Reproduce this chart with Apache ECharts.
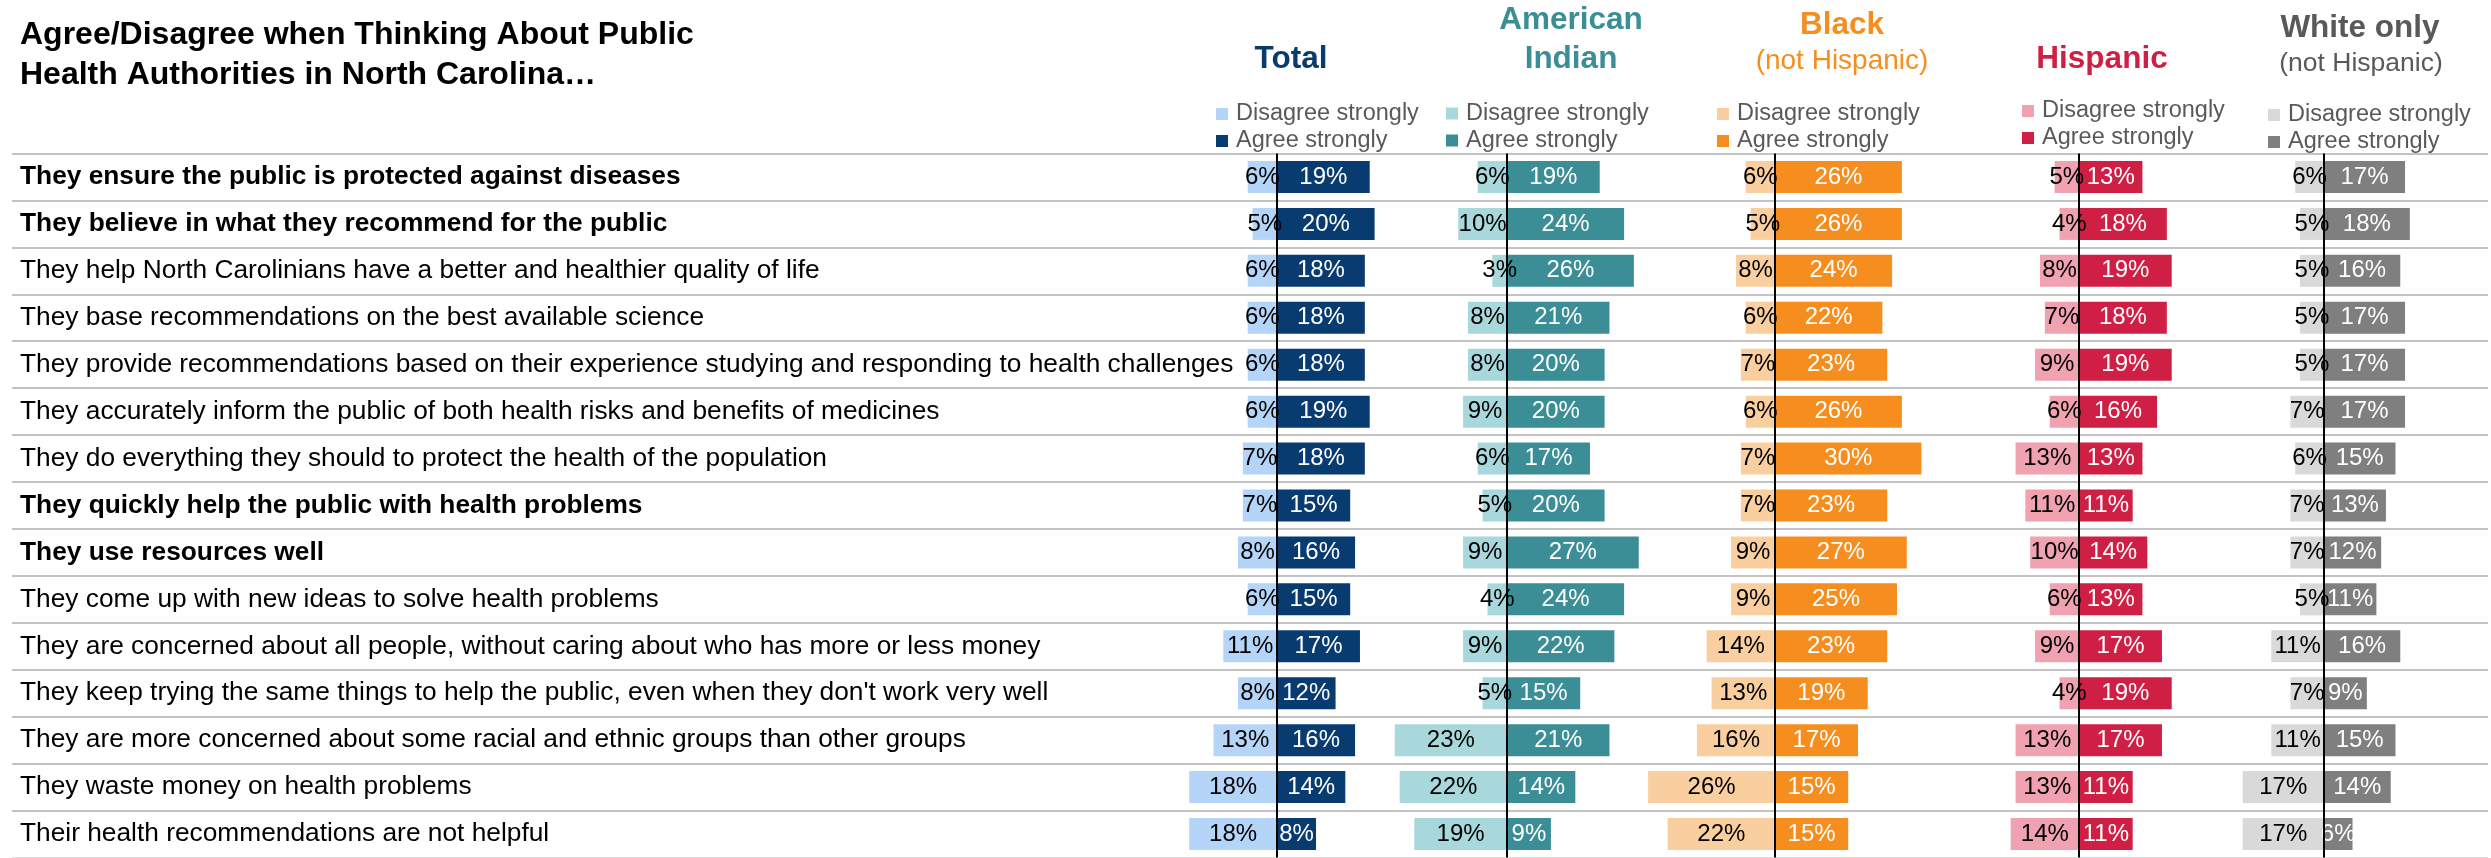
<!DOCTYPE html>
<html>
<head>
<meta charset="utf-8">
<script src="https://cdn.jsdelivr.net/npm/echarts@6/dist/echarts.min.js"></script>
<style>
html,body{margin:0;padding:0;background:#fff;}
#chart{width:2491px;height:858px;}
</style>
</head>
<body>
<div id="chart"></div>
<script>
// ---------- DATA ----------
const categories = [
  "They ensure the public is protected against diseases",
  "They believe in what they recommend for the public",
  "They help North Carolinians have a better and healthier quality of life",
  "They base recommendations on the best available science",
  "They provide recommendations based on their experience studying and responding to health challenges",
  "They accurately inform the public of both health risks and benefits of medicines",
  "They do everything they should to protect the health of the population",
  "They quickly help the public with health problems",
  "They use resources well",
  "They come up with new ideas to solve health problems",
  "They are concerned about all people, without caring about who has more or less money",
  "They keep trying the same things to help the public, even when they don't work very well",
  "They are more concerned about some racial and ethnic groups than other groups",
  "They waste money on health problems",
  "Their health recommendations are not helpful"
];
const boldRows = [0, 1, 7, 8];

const groupNames = ["Total", "American Indian", "Black (not Hispanic)", "Hispanic", "White only (not Hispanic)"];
const legendLabels = ["Disagree strongly", "Agree strongly"];

const totalDisagree    = [6, 5, 6, 6, 6, 6, 7, 7, 8, 6, 11, 8, 13, 18, 18];
const totalAgree       = [19, 20, 18, 18, 18, 19, 18, 15, 16, 15, 17, 12, 16, 14, 8];
const amIndDisagree    = [6, 10, 3, 8, 8, 9, 6, 5, 9, 4, 9, 5, 23, 22, 19];
const amIndAgree       = [19, 24, 26, 21, 20, 20, 17, 20, 27, 24, 22, 15, 21, 14, 9];
const blackDisagree    = [6, 5, 8, 6, 7, 6, 7, 7, 9, 9, 14, 13, 16, 26, 22];
const blackAgree       = [26, 26, 24, 22, 23, 26, 30, 23, 27, 25, 23, 19, 17, 15, 15];
const hispanicDisagree = [5, 4, 8, 7, 9, 6, 13, 11, 10, 6, 9, 4, 13, 13, 14];
const hispanicAgree    = [13, 18, 19, 18, 19, 16, 13, 11, 14, 13, 17, 19, 17, 11, 11];
const whiteDisagree    = [6, 5, 5, 5, 5, 7, 6, 7, 7, 5, 11, 7, 11, 17, 17];
const whiteAgree       = [17, 18, 16, 17, 17, 17, 15, 13, 12, 11, 16, 9, 15, 14, 6];

// ---------- STYLE / LAYOUT ----------
const FONT = "'Liberation Sans', Arial, Helvetica, sans-serif";
const PX_PER_PCT = 4.88;
const AX_MIN = -30, AX_MAX = 35;
const GRID_TOP = 153.5, GRID_H = 704;

const panels = [
  { key: "Total",    dis: totalDisagree,    agr: totalAgree,    zero: 1277, cDis: "#b4d5f7", cAgr: "#083b70", legL: 1216, legT: 102 },
  { key: "AmInd",    dis: amIndDisagree,    agr: amIndAgree,    zero: 1507, cDis: "#a8d8dc", cAgr: "#3b8e96", legL: 1446, legT: 101.5 },
  { key: "Black",    dis: blackDisagree,    agr: blackAgree,    zero: 1775, cDis: "#f9cfa0", cAgr: "#f58e1f", legL: 1717, legT: 102 },
  { key: "Hispanic", dis: hispanicDisagree, agr: hispanicAgree, zero: 2079, cDis: "#f0a2b0", cAgr: "#d01f45", legL: 2022, legT: 99 },
  { key: "White",    dis: whiteDisagree,    agr: whiteAgree,    zero: 2327, cDis: "#d9d9d9", cAgr: "#7f7f7f", legL: 2268, legT: 103 }
];

const sepColors = [];
for (let i = 0; i < categories.length; i++) sepColors.push('#c3c3c3');
sepColors.push('#dedede');

const grids = [], xAxes = [], yAxes = [], series = [], legends = [];

// full-width grid for row labels and separators
grids.push({ left: 12, right: 3, top: GRID_TOP, height: GRID_H });
xAxes.push({ type: 'value', gridIndex: 0, min: 0, max: 1, show: false });
yAxes.push({
  type: 'category', gridIndex: 0, data: categories, inverse: true,
  axisLine: { show: false }, axisTick: { show: false },
  axisLabel: {
    inside: true, margin: 8,
    formatter: (v, i) => (boldRows.indexOf(i) >= 0 ? '{b|' + v + '}' : '{n|' + v + '}'),
    rich: {
      b: { fontFamily: FONT, fontSize: 26.3, fontWeight: 'bold', color: '#000' },
      n: { fontFamily: FONT, fontSize: 26.3, color: '#000' }
    }
  },
  splitLine: { show: true, lineStyle: { color: sepColors, width: 2 } }
});

panels.forEach((p, idx) => {
  const gi = idx + 1;
  grids.push({ left: p.zero + AX_MIN * PX_PER_PCT, width: (AX_MAX - AX_MIN) * PX_PER_PCT, top: GRID_TOP, height: GRID_H });
  xAxes.push({ type: 'value', gridIndex: gi, min: AX_MIN, max: AX_MAX, show: false });
  yAxes.push({ type: 'category', gridIndex: gi, data: categories, inverse: true, show: false });
  const nDis = p.key + '|' + legendLabels[0];
  const nAgr = p.key + '|' + legendLabels[1];
  series.push({
    name: nDis, type: 'bar', xAxisIndex: gi, yAxisIndex: gi, stack: p.key,
    data: p.dis.map(v => -v), barWidth: 32,
    itemStyle: { color: p.cDis },
    label: { show: true, position: 'inside', formatter: d => Math.abs(d.value) + '%',
             color: '#000', fontFamily: FONT, fontSize: 24 },
    emphasis: { disabled: true }
  });
  series.push({
    name: nAgr, type: 'bar', xAxisIndex: gi, yAxisIndex: gi, stack: p.key,
    data: p.agr, barWidth: 32,
    itemStyle: { color: p.cAgr },
    label: { show: true, position: 'inside', formatter: d => d.value + '%',
             color: '#fff', fontFamily: FONT, fontSize: 24 },
    emphasis: { disabled: true },
    markLine: {
      silent: true, symbol: ['none', 'none'], animation: false,
      label: { show: false },
      lineStyle: { color: '#000', width: 2, type: 'solid' },
      data: [{ xAxis: 0 }]
    }
  });
  legends.push({
    data: [nDis, nAgr], orient: 'vertical', left: p.legL, top: p.legT,
    padding: 0, itemWidth: 12, itemHeight: 12, itemGap: 3, icon: 'rect',
    selectedMode: false,
    formatter: n => n.split('|')[1],
    textStyle: { fontFamily: FONT, fontSize: 23.5, color: '#595959', padding: [0, 0, 0, 3] }
  });
});

function txt(text, x, y, size, color, bold, align) {
  return { type: 'text', x: x, y: y, silent: true,
    style: { text: text, fill: color, font: (bold ? 'bold ' : '') + size + 'px ' + FONT,
             textAlign: align || 'center', textVerticalAlign: 'middle' } };
}

const graphics = [
  txt('Agree/Disagree when Thinking About Public', 20, 35, 32, '#000', true, 'left'),
  txt('Health Authorities in North Carolina\u2026', 20, 75, 32, '#000', true, 'left'),
  txt('Total', 1291, 59, 31.5, '#083b70', true),
  txt('American', 1571, 20, 31.5, '#3b8e96', true),
  txt('Indian', 1571, 59, 31.5, '#3b8e96', true),
  txt('Black', 1842, 25.5, 31.5, '#f58e1f', true),
  txt('(not Hispanic)', 1842, 61.5, 28, '#f58e1f', false),
  txt('Hispanic', 2102, 59, 31.5, '#d01f45', true),
  txt('White only', 2360, 28, 31.5, '#595959', true),
  txt('(not Hispanic)', 2361, 63.5, 26.5, '#595959', false)
];

const chart = echarts.init(document.getElementById('chart'), null, { renderer: 'canvas' });
chart.setOption({
  animation: false,
  backgroundColor: '#fff',
  grid: grids, xAxis: xAxes, yAxis: yAxes, series: series,
  legend: legends,
  graphic: graphics
});
</script>
</body>
</html>
